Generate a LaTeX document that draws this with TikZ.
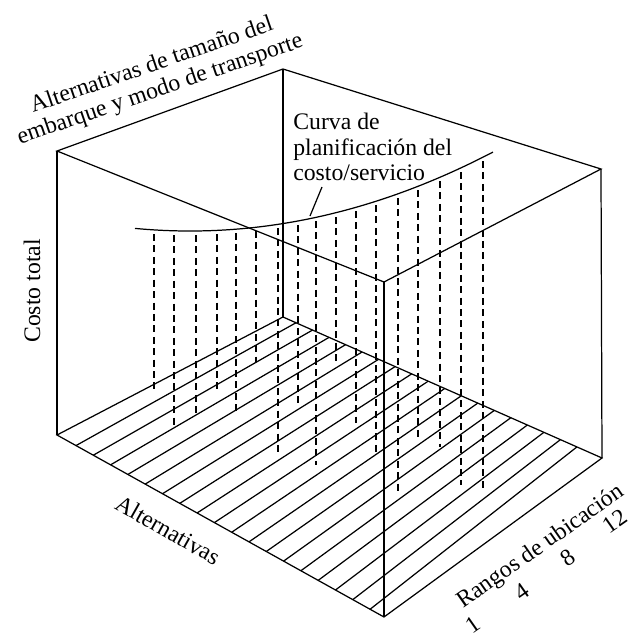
\documentclass[tikz,border=0pt]{standalone}
\usepackage{fontspec}
\setmainfont{Liberation Serif}
\usetikzlibrary{calc}
\tikzset{
  edge/.style={line width=0.7pt},
  hang/.style={line width=0.7pt, dash pattern=on 4pt off 2.5pt},
  lbl/.style={font=\fontsize{13.5}{14.5}\selectfont, inner sep=0pt}
}
\begin{document}
\begin{tikzpicture}[x=0.02cm,y=-0.02cm]
    \useasboundingbox (0,0) rectangle (631,637);
    % corners of the box
    \coordinate (tl) at (57,151);
    \coordinate (tb) at (283,69);
    \coordinate (tr) at (601,169);
    \coordinate (tf) at (384,282);
    \coordinate (bl) at (57,435);
    \coordinate (bb) at (283,317);
    \coordinate (br) at (602,458);
    \coordinate (bf) at (384,617);
    \draw[edge] (tl) -- (tb) -- (tr) -- (tf) -- cycle;
    \draw[edge] (bl) -- (bb) -- (br) -- (bf) -- cycle;
    \foreach \c in {l,b,r,f} 
    {
    \draw[edge] (t\c) -- (b\c);
    }
    % floor lines
    \foreach \i in {0,...,17} 
    {
    \draw[edge] ($(bl)!{0.0581+\i*0.0529}!(bf)$) -- ($(bb)!{0.0408+\i*0.0518}!(br)$);
    }
    % cost curve and drop lines
    \draw[edge] plot[domain=135:493,samples=60,smooth] (\x,{231-8.6*((\x-190)/100)^2});
    \foreach \x/\t/\b in {154/234/392,174/235/426,196/235/413,217/234/393,236/233/412,
      256/231/362,278/228/455,298/225/403,316/221/465,336/217/365,356/211/423,
      376/205/452,398/198/493,418/190/437,440/181/447,461/172/485,483/161/490} 
    {
    \draw[hang] (\x,\t) -- (\x,\b);
    }
    % labels
    \node[lbl,rotate=19,align=center] (toplabel) at (156,78) {Alternativas de tamaño del\\embarque y modo de transporte};
    \node[lbl,align=left,anchor=west] (curvelabel) at (293,147) {Curva de\\planificación del\\costo/servicio};
    \coordinate (ptrfrom) at (322,187);
    \coordinate (ptrto) at (310,216);
    \draw[edge] (ptrfrom) -- (ptrto);
    \node[lbl,rotate=90] (costlabel) at (32,291) {Costo total};
    \node[lbl,rotate=-29.5] (altlabel) at (168,530) {Alternativas};
    \node[lbl,rotate=35] (rangelabel) at (541,547) {Rangos de ubicación};
    \node[lbl,rotate=35] (r1) at (473,625) {1};
    \node[lbl,rotate=35] (r4) at (522,592) {4};
    \node[lbl,rotate=35] (r8) at (568,558) {8};
    \node[lbl,rotate=35] (r12) at (615,521) {12};
\end{tikzpicture}
\end{document}
